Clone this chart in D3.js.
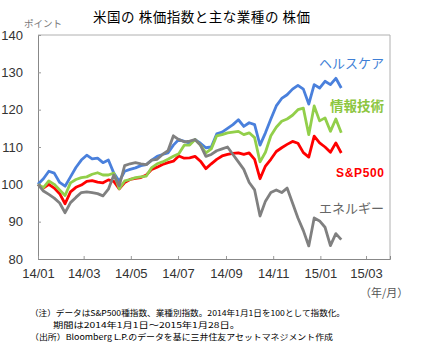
<!DOCTYPE html>
<html><head><meta charset="utf-8">
<script src="https://cdn.jsdelivr.net/npm/d3@7"></script>
<style>body{margin:0;background:#fff;} svg{display:block}</style>
</head><body>
<svg id="c" width="421" height="355"></svg>
<script>
const dates = ["2014-01-01","2014-01-08","2014-01-15","2014-01-22","2014-01-29","2014-02-05","2014-02-12","2014-02-19","2014-02-26",
"2014-03-05","2014-03-12","2014-03-19","2014-03-26","2014-04-02","2014-04-09","2014-04-16","2014-04-23","2014-04-30",
"2014-05-07","2014-05-14","2014-05-21","2014-05-28","2014-06-04","2014-06-11","2014-06-18","2014-06-25",
"2014-07-02","2014-07-09","2014-07-16","2014-07-23","2014-07-30","2014-08-06","2014-08-13","2014-08-20","2014-08-27",
"2014-09-03","2014-09-10","2014-09-17","2014-09-24","2014-10-01","2014-10-08","2014-10-15","2014-10-22","2014-10-29",
"2014-11-05","2014-11-12","2014-11-19","2014-11-26","2014-12-03","2014-12-10","2014-12-17","2014-12-24","2014-12-31",
"2015-01-07","2015-01-14","2015-01-21","2015-01-28"];
const healthcare = [100,101.5,103.5,103,100.5,99.5,102,104.5,106.5,107.8,106.8,107,105.8,106.5,103,100.8,103.5,104,104.4,105,105.3,106.5,107.5,108,108.4,110.5,112,111.5,111,112,111,109.8,110,113.5,114,115,116,117.3,115.5,116.5,116,110.5,113.8,117.5,121,123,124,125.5,126.5,125.5,121.5,126.7,125.8,127.6,126.7,128.4,125.8];
const infotech = [100,99.1,100.9,100,98.5,97,100.4,101.3,101.8,102,102.7,103.1,102.5,102.5,103,98.8,100.9,101.3,101.8,102,102.2,104.5,105.5,106,106.7,107.5,108.2,110.5,110.5,112,110.5,108.4,109.5,113,113.3,113.8,114,114.2,113.3,113.8,112.5,106,108.6,113,115.3,116.9,117.5,118.5,120,120.4,113.3,121,117,117.8,114.2,117.5,113.8];
const sp500 = [100,99,100,99,97.5,94.8,98,99.2,99.8,100.8,101,100.6,100.4,101.2,100.8,98.8,100.5,101.3,101.6,101.8,102.5,104,104.6,105.3,105.8,106.2,107.6,107,107.1,107.5,106.2,104.2,105.5,106.7,107.6,108,108.3,108.4,108,108.4,106.7,101.5,104.9,106.7,108.8,109.8,110.7,111.5,111,108.5,107.3,112.9,111.1,110,108.6,111.1,108.4];
const energy = [100,98.2,97.3,96.3,95,92.4,95.1,96.5,97.8,98,97.8,97.5,96.9,98.7,102.5,99.6,105,105.5,105.8,105.5,105.3,106.5,106.7,108,109,113,112,111.4,111.6,112,110.5,107.5,108,109,109.5,110,108,106,104,100.5,98.5,91.5,95.5,97.8,98.5,97.8,99,95,91,87.6,83.5,91,90.2,88.5,83.6,86.8,85.2];
const seriesNames = ["S&P500","ヘルスケア","情報技術","エネルギー"];
const xTickLabels = ["14/01","14/03","14/05","14/07","14/09","14/11","15/01","15/03"];
const yTickLabels = [80,90,100,110,120,130,140];

const svg = d3.select("#c");
const jp = "'Noto Sans CJK JP', 'Noto Sans', sans-serif";
const num = "'Liberation Sans', Arial, sans-serif";
const L = 38, R = 390, T = 35, B = 259;
const parse = d3.timeParse("%Y-%m-%d");
const tparse = d3.timeParse("%y/%m");
const x = d3.scaleTime().domain([parse("2014-01-01"), parse("2015-04-01")]).range([L, R]);
const y = d3.scaleLinear().domain([80, 140]).range([B, T]);

// title
svg.append("text").attr("x", 93).attr("y", 22).attr("font-family", jp).attr("font-size", 13.5)
  .attr("fill", "#000").attr("textLength", 217).attr("lengthAdjust", "spacing")
  .text("米国の 株価指数と主な業種の 株価");
svg.append("text").attr("x", 24).attr("y", 27).attr("font-family", jp).attr("font-size", 9.5)
  .attr("fill", "#777").text("ポイント");

// frame
svg.append("line").attr("x1", L).attr("x2", R).attr("y1", T).attr("y2", T).attr("stroke", "#b0b0b0");
svg.append("line").attr("x1", R).attr("x2", R).attr("y1", T).attr("y2", B).attr("stroke", "#b0b0b0");

// y axis
const yAxis = d3.axisLeft(y).tickValues(yTickLabels).tickSize(-3).tickPadding(15).tickFormat(d3.format("d"));
const gy = svg.append("g").attr("transform", `translate(${L},0)`).call(yAxis);
gy.select(".domain").attr("stroke", "#888");
gy.selectAll(".tick line").attr("stroke", "#999");
gy.selectAll("text").attr("font-family", num).attr("font-size", 13).attr("fill", "#333").attr("x", -15);

// x axis
const xAxis = d3.axisBottom(x).tickValues(xTickLabels.map(tparse)).tickSize(-3).tickPadding(10)
  .tickFormat((d, i) => xTickLabels[i]);
const gx = svg.append("g").attr("transform", `translate(0,${B})`).call(xAxis);
gx.select(".domain").attr("stroke", "#888");
gx.selectAll(".tick line").attr("stroke", "#999");
gx.selectAll("text").attr("font-family", num).attr("font-size", 13).attr("fill", "#333");

// lines
const line = d3.line().x((d, i) => x(parse(dates[i]))).y(d => y(d)).curve(d3.curveLinear);
const series = [
  {data: sp500, color: "#ff0000"},
  {data: healthcare, color: "#4a80dc"},
  {data: infotech, color: "#92cf4a"},
  {data: energy, color: "#808080"}
];
series.forEach(s => {
  svg.append("path").datum(s.data).attr("d", line).attr("fill", "none")
    .attr("stroke", s.color).attr("stroke-width", 2.8).attr("stroke-linejoin", "round");
});

// series labels
svg.append("text").attr("x", 319).attr("y", 68).attr("font-family", jp).attr("font-size", 13)
  .attr("fill", "#3f7fd6").text(seriesNames[1]);
svg.append("text").attr("x", 330).attr("y", 111).attr("font-family", jp).attr("font-size", 13.5)
  .attr("font-weight", "bold").attr("fill", "#8cc63f").text(seriesNames[2]);
svg.append("text").attr("x", 336).attr("y", 177).attr("font-family", num).attr("font-size", 12)
  .attr("font-weight", "bold").attr("fill", "#ff0000").attr("textLength", 48).text(seriesNames[0]);
svg.append("text").attr("x", 319).attr("y", 213).attr("font-family", jp).attr("font-size", 13)
  .attr("fill", "#666").text(seriesNames[3]);

// unit
svg.append("text").attr("x", 360).attr("y", 297).attr("font-family", jp).attr("font-size", 11)
  .attr("fill", "#555").text("（年/月）");

// notes
const notes = [
  {t: "（注）データはS&P500種指数、業種別指数。2014年1月1日を100として指数化。", x: 30, y: 316, w: 315},
  {t: "期間は2014年1月1日～2015年1月28日。", x: 53, y: 328, w: 187},
  {t: "（出所）Bloomberg L.P.のデータを基に三井住友アセットマネジメント作成", x: 30, y: 340, w: 303}
];
notes.forEach(n => {
  svg.append("text").attr("x", n.x).attr("y", n.y).attr("font-family", jp).attr("font-size", 8.2)
    .attr("fill", "#000").attr("textLength", n.w).attr("lengthAdjust", "spacingAndGlyphs").text(n.t);
});
</script>
</body></html>
